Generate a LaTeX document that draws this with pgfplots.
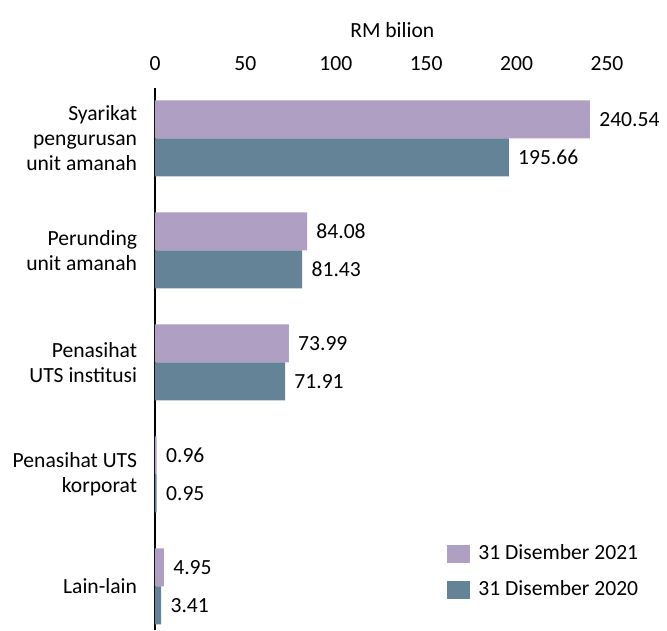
\documentclass[border=0pt]{standalone}
\usepackage{fontspec}
\setmainfont{Carlito}
\usepackage{pgfplots}
\pgfplotsset{compat=1.18}
\definecolor{c21}{HTML}{AF9FC2}
\definecolor{c20}{HTML}{658396}
\newcommand{\fnt}{\fontsize{10.8}{12.5}\selectfont}
\begin{document}
\begin{tikzpicture}
\path[use as bounding box] (-77.5pt,0pt) rectangle (256pt,315pt);
\begin{axis}[
  scale only axis,
  width=226pt, height=271pt,
  xmin=0, xmax=250,
  ymin=-0.39, ymax=4.45,
  xbar, bar width=19pt,
  axis y line*=left,
  axis x line*=top,
  x axis line style={draw=none},
  y axis line style={line width=0.8pt, -},
  xtick={0,50,...,250},
  ytick={0,1,2,3,4},
  yticklabels={Lain-lain, Penasihat UTS\\korporat, Penasihat\\UTS institusi, Perunding\\unit amanah, Syarikat\\pengurusan\\unit amanah},
  tick style={draw=none},
  font=\fnt,
  /pgf/number format/assume math mode=true,
  xticklabel style={anchor=base, yshift=8.5pt, font=\fnt},
  yticklabel style={align=right, inner sep=0pt, xshift=-4.5pt, font=\fnt},
  xlabel={RM bilion},
  xlabel style={anchor=base, at={(axis description cs:0.525,1)}, yshift=25pt, font=\fnt},
  nodes near coords={\pgfmathprintnumber[fixed,fixed zerofill,precision=2]{\pgfplotspointmeta}},
  point meta=x,
  nodes near coords style={anchor=west, inner sep=0pt, xshift=4.5pt, font=\fnt, text=black},
  legend style={draw=none, at={(0.646,0.165)}, anchor=north west, inner sep=0pt, row sep=5pt, font=\fnt, /tikz/every even column/.append style={column sep=0pt}},
  legend cell align=left,
  legend image code/.code={\fill[#1] (0pt,-4.5pt) rectangle (11.5pt,4.5pt); \path (13.5pt,0pt);},
  clip=false,
]
\addplot[fill=c21, draw=none, bar shift=9.5pt] coordinates {(240.54,4) (84.08,3) (73.99,2) (0.96,1) (4.95,0)};
\addplot[fill=c20, draw=none, bar shift=-9.5pt] coordinates {(195.66,4) (81.43,3) (71.91,2) (0.95,1) (3.41,0)};
\legend{31 Disember 2021, 31 Disember 2020}
\end{axis}
\end{tikzpicture}
\end{document}
